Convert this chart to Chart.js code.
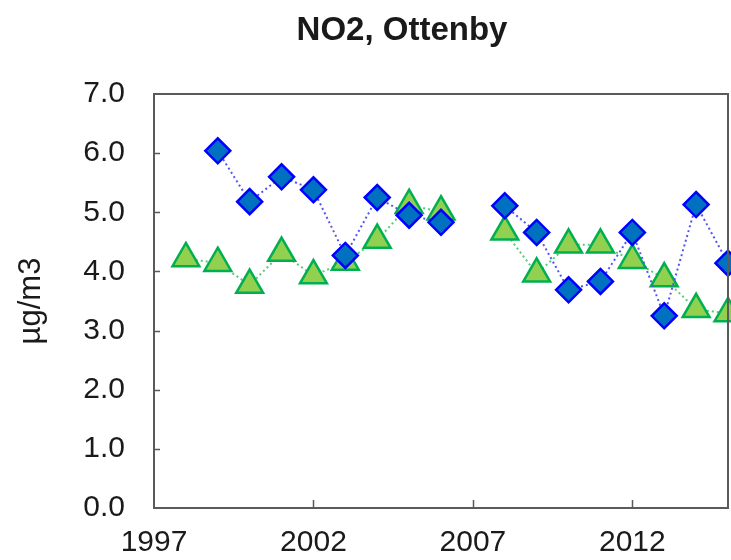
<!DOCTYPE html>
<html>
<head>
<meta charset="utf-8">
<script src="https://cdn.jsdelivr.net/npm/chart.js@4/dist/chart.umd.min.js"></script>
<style>
html,body{margin:0;padding:0;background:#fff;}
#wrap{width:731px;height:560px;}
</style>
</head>
<body>
<div id="wrap"><canvas id="c" width="731" height="560"></canvas></div>
<script>
// ---- data ----
const chartTitle = "NO2, Ottenby";
const yAxisTitle = "µg/m3";
const years = [1997, 1998, 1999, 2000, 2001, 2002, 2003, 2004, 2005, 2006, 2007, 2008, 2009, 2010, 2011, 2012, 2013, 2014, 2015];
const blueValues  = [null, null, 6.04, 5.18, 5.60, 5.38, 4.27, 5.25, 4.95, 4.83, null, 5.11, 4.66, 3.69, 3.83, 4.66, 3.25, 5.13, 4.14];
const greenValues = [null, 4.22, 4.14, 3.77, 4.31, 3.93, 4.16, 4.53, 5.12, 5.01, null, 4.67, 3.96, 4.45, 4.45, 4.19, 3.88, 3.36, 3.29];
const xTicks = [1997, 2002, 2007, 2012];
const yTicks = [0, 1, 2, 3, 4, 5, 6, 7];

const FONT = "'Liberation Sans', Arial, sans-serif";
const AXIS_COLOR = '#5a5a5a';
const TEXT_COLOR = '#1a1a1a';

function toPoints(vals){ return years.map((y, i) => ({x: y, y: vals[i]})); }

const framePlugin = {
  id: 'frame',
  afterDatasetsDraw(chart){
    const ctx = chart.ctx, a = chart.chartArea;
    const xs = chart.scales.x, ys = chart.scales.y;
    ctx.save();
    ctx.strokeStyle = AXIS_COLOR;
    ctx.lineWidth = 2;
    ctx.beginPath();
    ctx.moveTo(a.left, a.top); ctx.lineTo(a.right, a.top); ctx.lineTo(a.right, a.bottom);
    ctx.stroke();
    ctx.lineWidth = 1.5;
    ctx.beginPath();
    yTicks.forEach(v => {
      if (v === yTicks[0] || v === yTicks[yTicks.length-1]) return;
      const py = Math.round(ys.getPixelForValue(v)) + 0.5;
      ctx.moveTo(a.left, py); ctx.lineTo(a.left + 6, py);
    });
    xTicks.forEach(v => {
      if (v === xTicks[0]) return;
      const px = Math.round(xs.getPixelForValue(v)) + 0.5;
      ctx.moveTo(px, a.bottom); ctx.lineTo(px, a.bottom - 8);
    });
    ctx.stroke();
    ctx.restore();
  },
  afterDraw(chart){
    const ctx = chart.ctx;
    ctx.save();
    ctx.fillStyle = TEXT_COLOR;
    ctx.font = "bold 33px " + FONT;
    ctx.textAlign = 'center';
    ctx.textBaseline = 'middle';
    ctx.fillText(chartTitle, 402, 31);
    ctx.restore();
  }
};

new Chart(document.getElementById('c'), {
  type: 'line',
  data: {
    datasets: [
      {
        label: 'blue',
        data: toPoints(blueValues),
        order: 0,
        borderColor: '#5555f0',
        borderWidth: 2,
        borderDash: [2, 3],
        spanGaps: false,
        fill: false,
        pointStyle: 'rectRot',
        pointRadius: 12.5,
        pointHoverRadius: 12.5,
        pointBackgroundColor: '#0070C0',
        pointBorderColor: '#0000FF',
        pointBorderWidth: 2.5,
        clip: false
      },
      {
        label: 'green',
        data: toPoints(greenValues),
        order: 1,
        borderColor: '#55cc77',
        borderWidth: 2,
        borderDash: [2, 3],
        spanGaps: false,
        fill: false,
        pointStyle: 'triangle',
        pointRadius: 15.5,
        pointHoverRadius: 15.5,
        pointBackgroundColor: '#92D050',
        pointBorderColor: '#00B050',
        pointBorderWidth: 2.5,
        clip: false
      }
    ]
  },
  options: {
    responsive: false,
    devicePixelRatio: 1,
    animation: false,
    layout: { autoPadding: false, padding: { top: 94, right: 3, left: 0, bottom: 0 } },
    plugins: { legend: { display: false }, title: { display: false }, tooltip: { enabled: false } },
    scales: {
      x: {
        type: 'linear',
        min: 1997, max: 2015,
        grid: { display: false, drawTicks: false },
        border: { display: true, color: AXIS_COLOR, width: 2 },
        afterBuildTicks(scale){ scale.ticks = xTicks.map(v => ({value: v})); },
        afterFit(scale){ scale.height = 52; scale.paddingLeft = 0; scale.paddingRight = 0; },
        ticks: {
          color: TEXT_COLOR,
          font: { family: FONT, size: 30 },
          padding: 17,
          maxRotation: 0,
          autoSkip: false,
          callback: v => String(v)
        }
      },
      y: {
        min: 0, max: 7,
        grid: { display: false, drawTicks: false },
        border: { display: true, color: AXIS_COLOR, width: 2 },
        afterBuildTicks(scale){ scale.ticks = yTicks.map(v => ({value: v})); },
        afterFit(scale){ scale.width = 154; scale.paddingTop = 0; scale.paddingBottom = 0; },
        ticks: {
          color: TEXT_COLOR,
          font: { family: FONT, size: 30 },
          padding: 29,
          callback: v => Number(v).toFixed(1)
        },
        title: {
          display: true,
          text: yAxisTitle,
          color: TEXT_COLOR,
          font: { family: FONT, size: 31 },
          padding: { top: 13, bottom: 0 }
        }
      }
    }
  },
  plugins: [framePlugin]
});
</script>
</body>
</html>
